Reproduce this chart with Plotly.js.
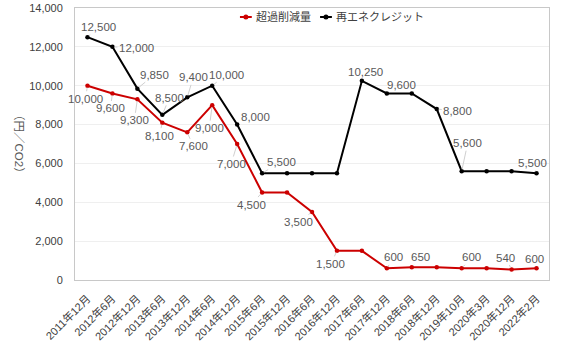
<!DOCTYPE html>
<html>
<head>
<meta charset="utf-8">
<script src="https://cdn.plot.ly/plotly-3.0.1.min.js"></script>
<style>html,body{margin:0;padding:0;background:#fff;}#chart{width:567px;height:351px;}</style>
</head>
<body>
<div id="chart"></div>
<script>
const categories = ["2011年12月","2012年6月","2012年12月","2013年6月","2013年12月","2014年6月","2014年12月","2015年6月","2015年12月","2016年6月","2016年12月","2017年6月","2017年12月","2018年6月","2018年12月","2019年10月","2020年3月","2020年12月","2022年2月"];
const seriesNames = ["超過削減量","再エネクレジット"];
const excessReduction = [10000,9600,9300,8100,7600,9000,7000,4500,4500,3500,1500,1500,600,650,650,600,600,540,600];
const renewableCredit = [12500,12000,9850,8500,9400,10000,8000,5500,5500,5500,5500,10250,9600,9600,8800,5600,5600,5600,5500];
const yTitle = "（円／CO2）";

// which points carry a value label, and label offsets (px) – style only
const redLabelOffsets = {0:[-2,13],1:[-2,15],2:[-3,21],3:[-3,13],4:[6,14],5:[-3,23],6:[-6,20],7:[-11,12],9:[-14,10],10:[-6,13],12:[7,-11],13:[9,-10],15:[10,-11],17:[-6,-12],18:[-2,-9]};
const blackLabelOffsets = {0:[11,-10],1:[24,1],2:[17,-14],3:[7,-17],4:[6,-20],5:[14,-11],6:[18,-8],7:[19,-11],11:[4,-9],12:[15,-8],14:[21,2],15:[6,-28],18:[-4,-10]};

const FONT = "'Liberation Sans', Arial, 'Noto Sans CJK JP', sans-serif";
const RED = "#cc0000", BLACK = "#000000";

const fmt = v => v.toLocaleString('en-US');
const annotations = [];
function addLabels(vals, offs) {
  Object.keys(offs).forEach(k => {
    const i = +k;
    annotations.push({
      x: categories[i], y: vals[i], xref: 'x', yref: 'y',
      text: fmt(vals[i]), showarrow: true, arrowhead: 0, arrowwidth: 1,
      arrowcolor: '#d0d0d0', standoff: 2,
      ax: offs[k][0], ay: offs[k][1],
      font: {family: FONT, size: 11.5, color: '#595959'}
    });
  });
}
addLabels(excessReduction, redLabelOffsets);
addLabels(renewableCredit, blackLabelOffsets);

annotations.push({
  xref: 'paper', yref: 'paper', x: -0.135, y: 0.5, text: yTitle, textangle: 90,
  showarrow: false, font: {family: FONT, size: 11.5, color: '#595959'}
});
// custom legend text
annotations.push({xref:'paper',yref:'paper',x:0.378,y:0.967,xanchor:'left',yanchor:'middle',text:seriesNames[0],showarrow:false,font:{family:FONT,size:11,color:'#404040'}});
annotations.push({xref:'paper',yref:'paper',x:0.546,y:0.967,xanchor:'left',yanchor:'middle',text:seriesNames[1],showarrow:false,font:{family:FONT,size:11,color:'#404040'}});

const dx = 2.5/474, dy = 2.5/272;
const shapes = [
  {type:'line',xref:'paper',yref:'paper',x0:0.348,x1:0.373,y0:0.967,y1:0.967,line:{color:RED,width:2}},
  {type:'circle',xref:'paper',yref:'paper',x0:0.3605-dx,x1:0.3605+dx,y0:0.967-dy,y1:0.967+dy,fillcolor:RED,line:{width:0}},
  {type:'line',xref:'paper',yref:'paper',x0:0.517,x1:0.542,y0:0.967,y1:0.967,line:{color:BLACK,width:2}},
  {type:'circle',xref:'paper',yref:'paper',x0:0.5295-dx,x1:0.5295+dx,y0:0.967-dy,y1:0.967+dy,fillcolor:BLACK,line:{width:0}}
];

const traces = [
  {x: categories, y: excessReduction, name: seriesNames[0], type: 'scatter', mode: 'lines+markers',
   line: {color: RED, width: 2}, marker: {color: RED, size: 4.5}},
  {x: categories, y: renewableCredit, name: seriesNames[1], type: 'scatter', mode: 'lines+markers',
   line: {color: BLACK, width: 2}, marker: {color: BLACK, size: 4.5}}
];

const layout = {
  width: 567, height: 351,
  margin: {l: 75, r: 18, t: 8, b: 71},
  paper_bgcolor: '#fff', plot_bgcolor: '#fff',
  showlegend: false,
  font: {family: FONT, size: 11, color: '#404040'},
  xaxis: {
    type: 'category', range: [-0.5, 18.5], tickangle: -45,
    showline: true, linecolor: '#c8c8c8', linewidth: 1, mirror: true,
    showgrid: false, ticks: '', ticklabelstandoff: 7,
    tickfont: {family: FONT, size: 11, color: '#404040'}
  },
  yaxis: {
    range: [0, 14000], dtick: 2000, tickformat: ',d',
    showline: true, linecolor: '#c8c8c8', linewidth: 1, mirror: true,
    gridcolor: '#efefef', zeroline: false, ticks: '', ticklabelstandoff: 9,
    tickfont: {family: FONT, size: 11, color: '#404040'}
  },
  annotations: annotations,
  shapes: shapes
};

Plotly.newPlot('chart', traces, layout, {displayModeBar: false, staticPlot: true});
</script>
</body>
</html>
